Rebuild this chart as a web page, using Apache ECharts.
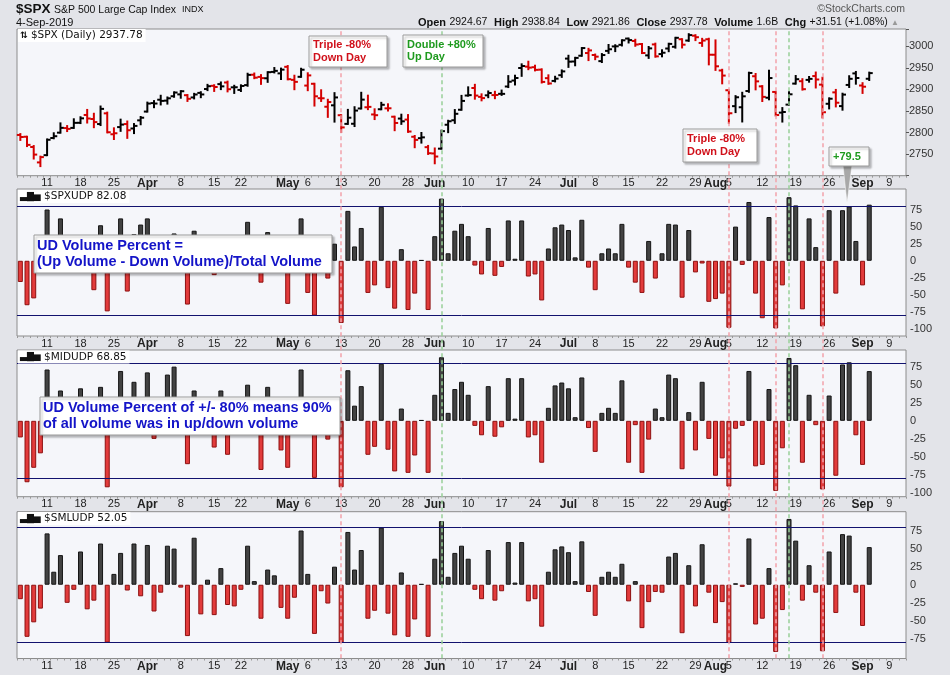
<!DOCTYPE html>
<html><head><meta charset="utf-8">
<script src="https://cdn.jsdelivr.net/npm/echarts@6/dist/echarts.min.js"></script>
<style>html,body{margin:0;padding:0;background:#e3e4e9;}#c{width:950px;height:675px;}</style>
</head><body><div id="c"></div>
<script>
// ---------------- DATA ----------------
const tradingDates = [
'2019-03-05','2019-03-06','2019-03-07','2019-03-08','2019-03-11','2019-03-12','2019-03-13','2019-03-14','2019-03-15','2019-03-18',
'2019-03-19','2019-03-20','2019-03-21','2019-03-22','2019-03-25','2019-03-26','2019-03-27','2019-03-28','2019-03-29','2019-04-01',
'2019-04-02','2019-04-03','2019-04-04','2019-04-05','2019-04-08','2019-04-09','2019-04-10','2019-04-11','2019-04-12','2019-04-15',
'2019-04-16','2019-04-17','2019-04-18','2019-04-22','2019-04-23','2019-04-24','2019-04-25','2019-04-26','2019-04-29','2019-04-30',
'2019-05-01','2019-05-02','2019-05-03','2019-05-06','2019-05-07','2019-05-08','2019-05-09','2019-05-10','2019-05-13','2019-05-14',
'2019-05-15','2019-05-16','2019-05-17','2019-05-20','2019-05-21','2019-05-22','2019-05-23','2019-05-24','2019-05-28','2019-05-29',
'2019-05-30','2019-05-31','2019-06-03','2019-06-04','2019-06-05','2019-06-06','2019-06-07','2019-06-10','2019-06-11','2019-06-12',
'2019-06-13','2019-06-14','2019-06-17','2019-06-18','2019-06-19','2019-06-20','2019-06-21','2019-06-24','2019-06-25','2019-06-26',
'2019-06-27','2019-06-28','2019-07-01','2019-07-02','2019-07-03','2019-07-05','2019-07-08','2019-07-09','2019-07-10','2019-07-11',
'2019-07-12','2019-07-15','2019-07-16','2019-07-17','2019-07-18','2019-07-19','2019-07-22','2019-07-23','2019-07-24','2019-07-25',
'2019-07-26','2019-07-29','2019-07-30','2019-07-31','2019-08-01','2019-08-02','2019-08-05','2019-08-06','2019-08-07','2019-08-08',
'2019-08-09','2019-08-12','2019-08-13','2019-08-14','2019-08-15','2019-08-16','2019-08-19','2019-08-20','2019-08-21','2019-08-22',
'2019-08-23','2019-08-26','2019-08-27','2019-08-28','2019-08-29','2019-08-30','2019-09-03','2019-09-04'];
const futureDates = ['2019-09-05','2019-09-06','2019-09-09','2019-09-10','2019-09-11'];

const openP = [2794.41,2790.27,2766.53,2730.79,2747.61,2787.34,2799.78,2810.38,2810.79,2822.61,2840.76,2831.34,2819.72,2844.52,2796.01,2812.66,2819.72,2809.40,2828.27,
2848.63,2868.24,2876.09,2873.99,2884.16,2888.46,2886.58,2881.37,2891.92,2900.86,2908.32,2912.26,2916.04,2904.81,2898.78,2909.99,2934.00,2928.99,2925.81,2940.58,2937.14,
2952.33,2922.16,2929.21,2908.89,2913.03,2879.61,2859.84,2863.10,2840.19,2820.12,2820.38,2855.80,2858.60,2841.94,2854.02,2856.06,2836.70,2832.41,2830.03,2790.25,2786.94,2766.15,
2751.53,2762.64,2818.09,2828.51,2852.87,2885.83,2903.27,2882.73,2886.24,2886.82,2889.75,2906.71,2920.55,2949.60,2952.71,2951.42,2945.78,2926.07,2919.66,2932.94,
2971.41,2964.66,2978.08,2984.25,2979.77,2965.52,2989.30,2999.62,3003.36,3017.80,3012.13,3005.10,2978.87,3004.26,2981.93,2994.74,2998.77,3016.26,3013.25,3024.47,3007.66,3016.22,
2980.32,2943.90,2898.07,2861.18,2858.65,2896.21,2930.51,2907.07,2880.72,2894.15,2846.20,2864.74,2913.48,2919.01,2922.04,2930.94,2911.07,2866.70,2893.14,2861.28,2910.37,2937.09,
2909.01,2924.67];
const highP = [2796.44,2790.27,2768.69,2744.13,2784.00,2798.32,2821.24,2815.00,2830.73,2835.41,2852.42,2843.54,2860.31,2846.16,2809.79,2829.87,2825.56,2819.71,2836.03,
2869.40,2872.90,2885.25,2881.28,2893.24,2895.95,2886.88,2889.71,2893.42,2910.54,2909.60,2916.06,2918.00,2908.40,2909.51,2936.31,2936.83,2933.10,2939.88,2949.52,2948.22,
2954.13,2931.68,2947.85,2937.32,2913.03,2897.96,2875.97,2891.31,2840.19,2852.54,2858.68,2892.15,2885.48,2853.86,2868.88,2865.47,2836.70,2841.36,2840.51,2792.03,2799.00,2768.98,
2763.07,2804.49,2827.28,2852.10,2884.97,2904.77,2910.61,2888.57,2895.24,2894.45,2897.27,2930.79,2931.74,2958.06,2964.15,2954.92,2946.52,2932.59,2929.30,2943.98,
2977.93,2973.21,2995.84,2994.03,2980.76,2981.90,3002.98,3002.33,3013.92,3017.80,3015.02,3005.26,2998.28,3006.02,2990.71,3005.90,3019.59,3016.31,3027.98,3025.61,3017.19,3017.40,
3013.59,2945.50,2898.07,2884.40,2892.17,2938.72,2935.75,2907.58,2943.31,2894.15,2856.67,2893.63,2931.00,2923.63,2928.73,2939.08,2927.01,2879.27,2898.79,2890.03,2930.50,2940.43,
2914.39,2938.84];
const lowP = [2782.97,2768.69,2739.80,2722.27,2747.61,2786.73,2799.78,2803.46,2810.79,2821.99,2823.27,2812.43,2817.38,2800.47,2785.02,2803.99,2787.72,2798.77,2819.23,
2848.63,2858.75,2865.17,2867.14,2882.99,2880.78,2873.33,2879.13,2881.99,2898.37,2896.48,2900.71,2895.45,2891.90,2896.35,2908.53,2926.05,2912.84,2917.56,2939.35,2924.11,
2923.36,2900.50,2929.21,2898.21,2862.60,2873.28,2836.40,2825.39,2801.43,2820.12,2815.08,2855.80,2854.23,2831.29,2854.02,2851.11,2805.49,2820.19,2801.58,2766.06,2776.74,2750.52,
2728.81,2762.64,2800.92,2822.45,2852.87,2885.51,2878.53,2874.68,2881.99,2879.62,2887.30,2905.44,2911.43,2931.50,2946.87,2944.05,2916.01,2912.99,2918.57,2929.05,
2952.22,2955.92,2977.96,2967.97,2970.09,2963.44,2984.62,2988.80,3001.87,3008.77,3001.15,2984.25,2973.09,2975.86,2976.65,2988.56,2996.82,2997.24,3012.59,3014.30,3000.94,2958.08,
2945.23,2914.11,2822.12,2847.42,2825.71,2894.47,2900.15,2873.14,2877.05,2839.64,2825.51,2864.74,2913.48,2899.60,2917.91,2904.51,2834.97,2856.00,2860.59,2853.05,2905.67,2913.32,
2891.85,2921.86];
const closeP = [2789.65,2771.45,2748.93,2743.07,2783.30,2791.52,2810.92,2808.48,2822.48,2832.94,2832.57,2824.23,2854.88,2800.71,2798.36,2818.46,2805.37,2815.44,2834.40,
2867.19,2867.24,2873.40,2879.39,2892.74,2895.77,2878.20,2888.21,2888.32,2907.41,2905.58,2907.06,2900.45,2905.03,2907.97,2933.68,2927.25,2926.17,2939.88,2943.03,2945.83,
2923.73,2917.52,2945.64,2932.47,2884.05,2879.42,2870.72,2881.40,2811.87,2834.41,2850.96,2876.32,2859.53,2840.23,2864.36,2856.27,2822.24,2826.06,2802.39,2783.02,2788.86,2752.06,
2744.45,2803.27,2826.15,2843.49,2873.34,2886.73,2885.72,2879.84,2891.64,2886.98,2889.67,2917.75,2926.46,2954.18,2950.46,2945.35,2917.38,2913.78,2924.92,2941.76,
2964.33,2973.01,2995.82,2990.41,2975.95,2979.63,2993.07,2999.91,3013.77,3014.30,3004.04,2984.42,2995.11,2976.61,2985.03,3005.47,3019.56,3003.67,3025.86,3020.97,3013.18,2980.38,
2953.56,2932.05,2844.74,2881.77,2883.98,2938.09,2918.65,2882.70,2926.32,2840.60,2847.60,2888.68,2923.65,2900.51,2924.43,2922.95,2847.11,2878.38,2869.16,2887.94,2924.58,2926.46,
2906.27,2937.78];
const prevClose = 2792.81;

const spxUdp = [-31,-65,-55,-12,75,15,62,-8,25,20,
-12,-43,52,-74,-5,62,-45,39,53,62,
-5,10,15,40,8,-64,44,-5,30,-21,
5,-15,10,5,57,-15,-32,42,10,15,
-63,-15,62,-47,-80,-10,-26,25,-91,73,
21,48,-47,-36,79,-40,-70,17,-72,-48,
1,-72,36,91,11,44,54,36,-7,-20,
48,-22,-9,59,3,59,-23,-20,-58,18,
49,53,45,5,60,-10,-43,11,18,11,
54,-10,-32,-47,29,-26,11,54,53,-54,
45,-17,-4,-60,-56,-48,-98,50,-6,86,
-48,-84,64,-99,-36,93,81,-71,62,20,
-96,74,-48,74,79.5,29,-36,82.08];
const midUdp = [-23,-85,-65,-45,71,10,42,-10,5,45,
-15,-15,47,-92,5,69,-15,54,10,67,
-25,-5,64,75,-10,-60,42,-15,15,-37,
42,-47,-10,-5,50,5,-68,47,10,-41,
-65,-15,71,-15,-79,-10,-26,25,-92,70,
21,48,-47,-36,79,-40,-70,17,-72,-48,
1,-72,36,88,11,44,54,36,-7,-20,
48,-22,-9,59,3,59,-23,-20,-58,18,
49,53,45,5,60,-10,-43,11,18,11,
56,-58,-6,-72,-26,17,5,64,59,-67,
12,-41,54,-25,-76,-52,-91,-11,-7,69,
-63,-61,44,-97,-38,87,77,-58,36,-6,
-95,35,-76,78,81,-20,-61,68.85];
const smlUdp = [-20,-72,-52,-33,71,18,41,-25,-7,46,
-34,-22,57,-80,15,44,-8,57,-16,55,
-37,-11,54,50,-4,-71,65,-41,7,-42,
23,-28,-30,-7,54,5,-47,21,13,-32,
-47,-18,75,15,-68,-9,-26,25,-80,73,
21,48,-47,-36,79,-40,-70,17,-72,-48,
1,-72,36,88,11,44,54,36,-7,-20,
48,-22,-9,59,3,59,-23,-20,-58,18,
49,53,45,5,60,-10,-43,11,18,11,
29,-23,5,-60,-24,-10,-11,39,44,-67,
27,-30,56,-11,-53,-24,-80,2,-3,64,
-55,-47,23,-93,-35,91,61,-22,27,-11,
-92,46,-39,70,68,-11,-57,52.05];

const priceTicks = [2750,2800,2850,2900,2950,3000];
const udpTicks = [-100,-75,-50,-25,0,25,50,75];
const redLineDates = ['2019-05-13','2019-08-05','2019-08-14','2019-08-23'];
const greenLineDates = ['2019-06-04','2019-08-16'];
const thresholds = [80,-80];

// ---------------- BUILD ----------------
const allDates = tradingDates.concat(futureDates);
const N = allDates.length;
const monthNames = ['Jan','Feb','Mar','Apr','May','Jun','Jul','Aug','Sep','Oct','Nov','Dec'];
function pd(s){const p=s.split('-').map(Number);return new Date(Date.UTC(p[0],p[1]-1,p[2]));}
const labelText = {};
for (let i=1;i<N;i++){
  const d=pd(allDates[i]), p=pd(allDates[i-1]);
  if (d.getUTCMonth()!==p.getUTCMonth()) labelText[i]='{b|'+monthNames[d.getUTCMonth()]+'}';
  else if (d.getUTCDay()<p.getUTCDay()) labelText[i]='{n|'+d.getUTCDate()+'}';
}
for (const k in labelText){ const i=+k;
  if (labelText[i].startsWith('{n') && (labelText[i+1]&&labelText[i+1].startsWith('{b') || labelText[i+2]&&labelText[i+2].startsWith('{b'))) delete labelText[i];
}

const ohlc = tradingDates.map((d,i)=>{
  const pc = i===0?prevClose:closeP[i-1];
  return [i, openP[i], closeP[i], lowP[i], highP[i], closeP[i]<pc?1:0];
});

const L=17, R=44;
const grids=[
  {top:29,height:146.7},
  {top:189,height:147},
  {top:350,height:146.7},
  {top:511.7,height:146.8}
];
const FONT='Liberation Sans, Arial, sans-serif';

function xAxisFor(gi){
  return {type:'category',gridIndex:gi,data:allDates,boundaryGap:true,
    axisLine:{show:false,onZero:false},
    axisTick:{show:true,interval:0,length:2,lineStyle:{color:'#9a9a9a'}},
    axisLabel:{interval:(idx)=>labelText[idx]!==undefined,formatter:(v,idx)=>labelText[idx]||'',
      margin:2,color:'#222',fontFamily:FONT,fontSize:11,
      rich:{b:{fontWeight:'bold',fontSize:12,color:'#222',fontFamily:FONT},n:{fontSize:11,color:'#222',fontFamily:FONT}}},
    splitLine:{show:false}};
}
function udpY(gi,min,max,minLab){
  return {type:'value',gridIndex:gi,position:'right',min:min,max:max,interval:1,
    axisLine:{show:false},axisTick:{show:false},splitLine:{show:false},
    axisLabel:{margin:4,color:'#333',fontFamily:FONT,fontSize:11,
      formatter:(v)=>(udpTicks.indexOf(v)>=0 && v>=minLab)?String(v):''}};
}
function udpSeries(name,data,gi){
  const last=data[data.length-1];
  return {type:'bar',name:name,xAxisIndex:gi,yAxisIndex:gi,barWidth:5,z:2,animation:false,
    data:data.map(v=>({value:v,itemStyle:v>=0?{color:'#424242',borderColor:'#151515',borderWidth:1}:{color:'#e23b3b',borderColor:'#8e1010',borderWidth:1}})),
    markLine:{silent:true,symbol:['none','none'],animation:false,z:3,
      data:thresholds.map(t=>({yAxis:t,lineStyle:{color:'#12126e',width:1,type:'solid'},label:{show:false}})).concat([
        {yAxis:last,lineStyle:{opacity:0},label:{show:true,position:'end',distance:4,formatter:last.toFixed(2),
          backgroundColor:'#fff',borderColor:'#000',borderWidth:1,padding:[1,2,0,2],color:'#000',fontWeight:'bold',fontSize:11,fontFamily:FONT}}])}
  };
}

const option={
  backgroundColor:'#e3e4e9',
  animation:false,
  grid:grids.map(g=>({left:L,right:R,top:g.top,height:g.height,show:true,backgroundColor:'#f5f6fa',borderColor:'#8c8c8c',borderWidth:1}))
    .concat([{left:L,right:R,top:29,height:629.3,show:false}]),
  xAxis:[xAxisFor(0),xAxisFor(1),xAxisFor(2),xAxisFor(3),
    {type:'category',gridIndex:4,data:allDates,show:false,boundaryGap:true}],
  yAxis:[
    {type:'value',gridIndex:0,position:'right',min:2700,max:3040,interval:50,
     axisLine:{show:false},axisTick:{show:true,length:3,lineStyle:{color:'#555'}},splitLine:{show:false},
     axisLabel:{margin:3,color:'#333',fontFamily:FONT,fontSize:11,formatter:(v)=>priceTicks.indexOf(v)>=0?String(v):''}},
    udpY(1,-110,105,-100),
    udpY(2,-105,98,-100),
    udpY(3,-102,101,-75),
    {type:'value',gridIndex:4,min:0,max:1,show:false}
  ],
  series:[
    {type:'custom',name:'SPX',xAxisIndex:0,yAxisIndex:0,z:2,data:ohlc,encode:{x:0,y:[1,2,3,4]},
     renderItem:function(params,api){
       const i=api.value(0);
       const pO=api.coord([i,api.value(1)]),pC=api.coord([i,api.value(2)]),pL=api.coord([i,api.value(3)]),pH=api.coord([i,api.value(4)]);
       const col=api.value(5)?'#d40000':'#000';
       const st={stroke:col,lineWidth:2};
       return {type:'group',children:[
         {type:'line',shape:{x1:pH[0],y1:pH[1]-1,x2:pL[0],y2:pL[1]+1},style:st},
         {type:'line',shape:{x1:pO[0]-3.5,y1:pO[1],x2:pO[0],y2:pO[1]},style:st},
         {type:'line',shape:{x1:pC[0],y1:pC[1],x2:pC[0]+3.5,y2:pC[1]},style:st}]};
     },
     markLine:{silent:true,symbol:['none','none'],animation:false,
       data:[{yAxis:closeP[closeP.length-1],lineStyle:{opacity:0},label:{show:true,position:'end',distance:4,
         formatter:closeP[closeP.length-1].toFixed(2),backgroundColor:'#fff',borderColor:'#000',borderWidth:1,padding:[1,2,0,2],
         color:'#000',fontWeight:'bold',fontSize:11,fontFamily:FONT}}]}
    },
    udpSeries('SPXUDP',spxUdp,1),
    udpSeries('MIDUDP',midUdp,2),
    udpSeries('SMLUDP',smlUdp,3),
    {type:'line',xAxisIndex:4,yAxisIndex:4,data:allDates.map(()=>null),showSymbol:false,z:4,silent:true,
     markLine:{silent:true,symbol:['none','none'],animation:false,label:{show:false},
       data:redLineDates.map(d=>({xAxis:allDates.indexOf(d),lineStyle:{color:'#f2a2aa',width:1.5,type:[4,3]}}))
        .concat(greenLineDates.map(d=>({xAxis:allDates.indexOf(d),lineStyle:{color:'#98d098',width:1.5,type:[4,3]}})))}
    }
  ],
  graphic:[]
};

function note(x,y,w,h,lines,color,size,lh,tx){
  return {type:'group',z:100,children:[
    {type:'rect',z:100,shape:{x:x,y:y,width:w,height:h},style:{fill:'#fff',stroke:'#9a9a9a',lineWidth:1,shadowBlur:2,shadowOffsetX:2,shadowOffsetY:2,shadowColor:'rgba(0,0,0,0.25)'}},
    {type:'text',z:101,x:x+(tx||4),y:y+h/2,style:{text:lines.join('\n'),fill:color,font:'bold '+size+'px '+FONT,lineHeight:lh,verticalAlign:'middle'}}
  ]};
}
function legendLabel(y,icon,text){
  return {type:'text',z:50,x:L+1,y:y,style:{text:'{i|'+icon+'} '+text,fill:'#111',font:'10.5px DejaVu Sans',verticalAlign:'middle',backgroundColor:'#fff',padding:[1,3,1,2],
    rich:{i:{font:'bold 9px DejaVu Sans',fill:'#111'}}}};
}
option.graphic=[
  {type:'text',z:100,x:16,y:9,style:{text:'$SPX',font:'bold 13.5px '+FONT,fill:'#111',verticalAlign:'middle'}},
  {type:'text',z:100,x:54,y:10,style:{text:'S&P 500 Large Cap Index',font:'10.5px '+FONT,fill:'#111',verticalAlign:'middle'}},
  {type:'text',z:100,x:182,y:10,style:{text:'INDX',font:'9px '+FONT,fill:'#111',verticalAlign:'middle'}},
  {type:'text',z:100,x:16,y:22.5,style:{text:'4-Sep-2019',font:'11px '+FONT,fill:'#111',verticalAlign:'middle'}},
  {type:'text',z:100,x:905,y:9,style:{text:'\u00A9StockCharts.com',font:'10.5px '+FONT,fill:'#555',align:'right',verticalAlign:'middle'}},
  {type:'text',z:100,x:899,y:22.5,style:{align:'right',verticalAlign:'middle',
    text:'{b|Open} {v|2924.67}  {b|High} {v|2938.84}  {b|Low} {v|2921.86}  {b|Close} {v|2937.78}  {b|Volume} {v|1.6B}  {b|Chg} {v|+31.51 (+1.08%)} {a|\u25B2}',
    rich:{b:{font:'bold 11px '+FONT,fill:'#111'},v:{font:'10.5px '+FONT,fill:'#111'},a:{font:'8px '+FONT,fill:'#999'}}}},
  legendLabel(35.5,'\u21C5','$SPX (Daily) 2937.78'),
  legendLabel(196.5,'\u2583\u2587\u2585','$SPXUDP 82.08'),
  legendLabel(357,'\u2583\u2587\u2585','$MIDUDP 68.85'),
  legendLabel(518.5,'\u2583\u2587\u2585','$SMLUDP 52.05'),
  note(309,36,78,31,['Triple -80%','Down Day'],'#d0101a',11,12.5),
  note(403,35,80,32,['Double +80%','Up Day'],'#1e9a1e',11,12.5),
  note(683,129,74,33,['Triple -80%','Down Day'],'#d0101a',11,12.5),
  {type:'polygon',z:99,shape:{points:[[843,165],[852,165],[847,203]]},style:{fill:'#a8a8a8',stroke:'#fff',lineWidth:0.5}},
  note(829,147,40,19,['+79.5'],'#1e9a1e',11,12),
  note(34,235,298,38,['UD Volume Percent =','(Up Volume - Down Volume)/Total Volume'],'#1414c8',14.5,16,3),
  note(40,397,300,38,['UD Volume Percent of +/- 80% means 90%','of all volume was in up/down volume'],'#1414c8',14.5,15.5,3)
];

const chart=echarts.init(document.getElementById('c'),null,{renderer:'canvas'});
chart.setOption(option);
</script></body></html>
